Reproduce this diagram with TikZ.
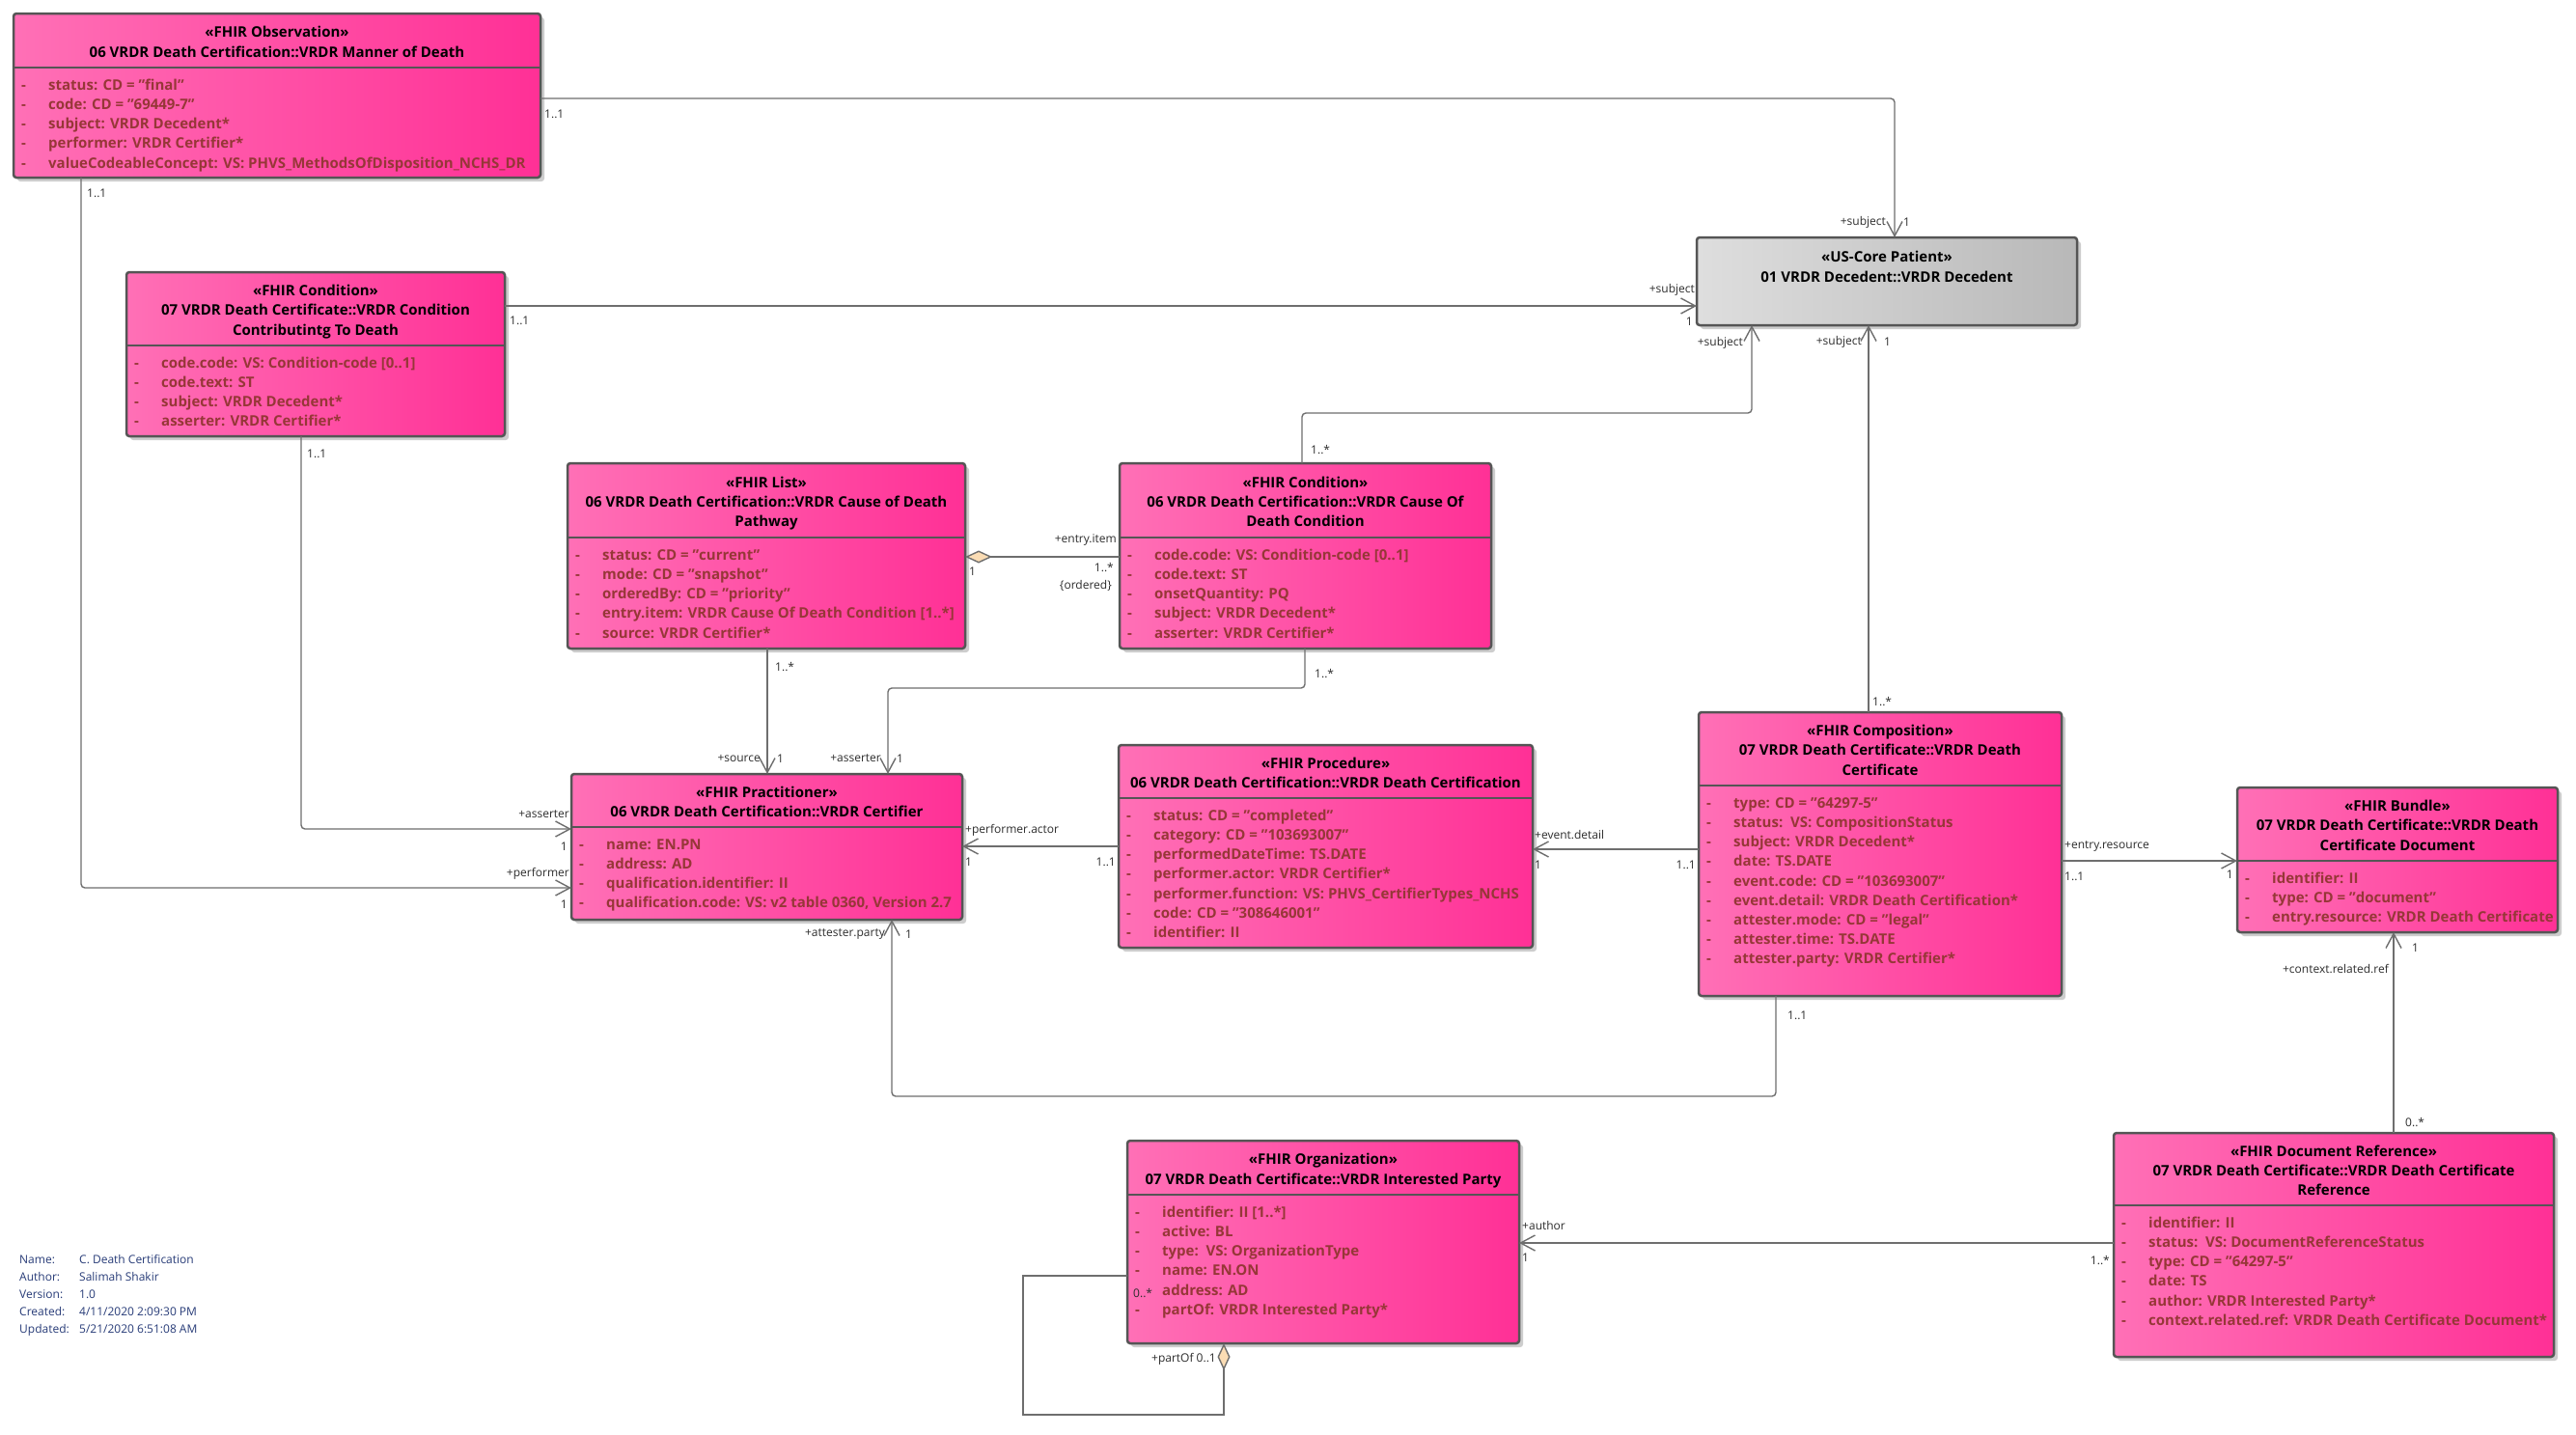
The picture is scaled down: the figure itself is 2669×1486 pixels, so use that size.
\documentclass[tikz,border=0pt]{standalone}
\usepackage{fontspec}
\setmainfont{Open Sans}
\usetikzlibrary{arrows.meta}
\definecolor{pinkL}{RGB}{255,112,182}
\definecolor{pinkR}{RGB}{255,48,150}
\definecolor{grayL}{RGB}{222,222,222}
\definecolor{grayR}{RGB}{184,184,184}
\definecolor{boxline}{RGB}{85,85,85}
\definecolor{attrc}{RGB}{150,55,55}
\definecolor{connc}{RGB}{110,110,110}
\definecolor{lblc}{RGB}{45,45,45}
\definecolor{legc}{RGB}{40,60,120}
\definecolor{diamc}{RGB}{250,220,180}
\definecolor{shadowc}{RGB}{205,205,205}
\newcommand\sline{\rule[-5.2pt]{0pt}{20.2pt}}
\newcommand\at[1]{\sline\makebox[28pt][l]{-}#1}
\newcommand\an[1]{\sline\makebox[28pt][l]{}#1}
\newcommand\umlbox[9]{%
  \fill[shadowc, rounded corners=3pt] (#2+4,#3+4) rectangle (#4+4,#5+4);
  \node[classbox,#9, minimum width={(#4-#2)*1pt}, minimum height={(#5-#3)*1pt}] (#1) at (#2,#3) {};
  \draw[boxline, line width=2.5pt] (#2,#6) -- (#4,#6);
  \node[hdr] (#1-h) at ({(#2+#4)/2},{(#3+#6)/2+2}) {#7};
  \node[attr] (#1-a) at (#2+8,#6+8) {#8};
}
\begin{document}
\begin{tikzpicture}[x=1pt,y=-1pt,
  classbox/.style={draw=boxline, line width=2.5pt, rounded corners=3pt, inner sep=0pt, outer sep=0pt, anchor=north west},
  pinkfill/.style={left color=pinkL, right color=pinkR},
  grayfill/.style={left color=grayL, right color=grayR},
  hdr/.style={font=\bfseries\fontsize{15}{20.2}\selectfont, align=center, inner sep=0pt, text=black},
  attr/.style={font=\bfseries\fontsize{15}{20.2}\selectfont, align=left, inner sep=0pt, anchor=north west, text=attrc},
  conn/.style={draw=connc, line width=1.4pt, rounded corners=4pt},
  nav/.style={-{Straight Barb[length=15pt,width=16pt]}},
  agg/.style={{Diamond[length=28pt,width=13pt,fill=diamc,color=connc]}-},
  lbl/.style={font=\fontsize{12}{14}\selectfont, text=lblc, inner sep=0pt},
  leg/.style={font=\fontsize{12}{18}\selectfont, text=legc, inner sep=0pt, anchor=north west}
]
\useasboundingbox (0,0) rectangle (2669,1486);
\fill[white] (0,0) rectangle (2669,1486);

% ---------- classes ----------
\umlbox{obs}{14}{14}{560}{184}{70}
 {\sline «FHIR Observation»\\\sline 06 VRDR Death Certification::VRDR Manner of Death}
 {\at{status: CD = "final"}\\\at{code: CD = "69449-7"}\\\at{subject: VRDR Decedent*}\\\at{performer: VRDR Certifier*}\\\at{valueCodeableConcept: VS: PHVS\_MethodsOfDisposition\_NCHS\_DR}}
 {pinkfill}

\umlbox{cc}{131}{282}{523}{452}{358}
 {\sline «FHIR Condition»\\\sline 07 VRDR Death Certificate::VRDR Condition\\\sline Contributintg To Death}
 {\at{code.code: VS: Condition-code [0..1]}\\\at{code.text: ST}\\\at{subject: VRDR Decedent*}\\\at{asserter: VRDR Certifier*}}
 {pinkfill}

\umlbox{list}{588}{480}{1000}{672}{557}
 {\sline «FHIR List»\\\sline 06 VRDR Death Certification::VRDR Cause of Death\\\sline Pathway}
 {\at{status: CD = "current"}\\\at{mode: CD = "snapshot"}\\\at{orderedBy: CD = "priority"}\\\at{entry.item: VRDR Cause Of Death Condition [1..*]}\\\at{source: VRDR Certifier*}}
 {pinkfill}

\umlbox{cod}{1160}{480}{1545}{672}{557}
 {\sline «FHIR Condition»\\\sline 06 VRDR Death Certification::VRDR Cause Of\\\sline Death Condition}
 {\at{code.code: VS: Condition-code [0..1]}\\\at{code.text: ST}\\\at{onsetQuantity: PQ}\\\at{subject: VRDR Decedent*}\\\at{asserter: VRDR Certifier*}}
 {pinkfill}

% patient (no compartment)
\fill[shadowc, rounded corners=3pt] (1762,250) rectangle (2156,341);
\node[classbox, grayfill, minimum width=394pt, minimum height=91pt] (pat) at (1758,246) {};
\node[hdr] (pat-h) at (1955,277) {\sline «US-Core Patient»\\\sline 01 VRDR Decedent::VRDR Decedent};

\umlbox{prac}{592}{802}{997}{953}{857}
 {\sline «FHIR Practitioner»\\\sline 06 VRDR Death Certification::VRDR Certifier}
 {\at{name: EN.PN}\\\at{address: AD}\\\at{qualification.identifier: II}\\\at{qualification.code: VS: v2 table 0360, Version 2.7}}
 {pinkfill}

\umlbox{proc}{1159}{772}{1588}{982}{827}
 {\sline «FHIR Procedure»\\\sline 06 VRDR Death Certification::VRDR Death Certification}
 {\at{status: CD = "completed"}\\\at{category: CD = "103693007"}\\\at{performedDateTime: TS.DATE}\\\at{performer.actor: VRDR Certifier*}\\\at{performer.function: VS: PHVS\_CertifierTypes\_NCHS}\\\at{code: CD = "308646001"}\\\at{identifier: II}}
 {pinkfill}

\umlbox{comp}{1760}{738}{2136}{1032}{814}
 {\sline «FHIR Composition»\\\sline 07 VRDR Death Certificate::VRDR Death\\\sline Certificate}
 {\at{type: CD = "64297-5"}\\\at{status:\ \ VS: CompositionStatus}\\\at{subject: VRDR Decedent*}\\\at{date: TS.DATE}\\\at{event.code: CD = "103693007"}\\\at{event.detail: VRDR Death Certification*}\\\at{attester.mode: CD = "legal"}\\\at{attester.time: TS.DATE}\\\at{attester.party: VRDR Certifier*}}
 {pinkfill}

\umlbox{bundle}{2318}{816}{2650}{966}{892}
 {\sline «FHIR Bundle»\\\sline 07 VRDR Death Certificate::VRDR Death\\\sline Certificate Document}
 {\at{identifier: II}\\\at{type: CD = "document"}\\\at{entry.resource: VRDR Death Certificate}}
 {pinkfill}

\umlbox{org}{1168}{1182}{1574}{1392}{1238}
 {\sline «FHIR Organization»\\\sline 07 VRDR Death Certificate::VRDR Interested Party}
 {\at{identifier: II [1..*]}\\\at{active: BL}\\\at{type:\ \ VS: OrganizationType}\\\at{name: EN.ON}\\\an{address: AD}\\\at{partOf: VRDR Interested Party*}}
 {pinkfill}

\umlbox{doc}{2190}{1174}{2646}{1406}{1249}
 {\sline «FHIR Document Reference»\\\sline 07 VRDR Death Certificate::VRDR Death Certificate\\\sline Reference}
 {\at{identifier: II}\\\at{status:\ \ VS: DocumentReferenceStatus}\\\at{type: CD = "64297-5"}\\\at{date: TS}\\\at{author: VRDR Interested Party*}\\\at{context.related.ref: VRDR Death Certificate Document*}}
 {pinkfill}

% ---------- connector bend points ----------
\coordinate (k1) at (1963,102);
\coordinate (k2) at (84,920);
\coordinate (k3) at (0,317);
\coordinate (k4) at (312,859);
\coordinate (k5) at (0,577);
\coordinate (k6a) at (1349,428);
\coordinate (k6b) at (1815,428);
\coordinate (k7) at (795,0);
\coordinate (k8a) at (1352,713);
\coordinate (k8b) at (920,713);
\coordinate (k9) at (0,877);
\coordinate (k10) at (0,880);
\coordinate (k11) at (1936,0);
\coordinate (k12) at (0,892);
\coordinate (k13a) at (1840,1136);
\coordinate (k13b) at (924,1136);
\coordinate (k14) at (2480,0);
\coordinate (k15) at (0,1288);
\coordinate (k16a) at (1268,1466);
\coordinate (k16b) at (1060,1466);
\coordinate (k16c) at (1060,1322);

% ---------- connectors ----------
\draw[conn,nav] (obs.east |- k1) -- (k1) -- (pat.north -| k1);
\draw[conn,nav] (obs.south -| k2) -- (k2) -- (prac.west |- k2);
\draw[conn,nav] (cc.east |- k3) -- (pat.west |- k3);
\draw[conn,nav] (cc.south -| k4) -- (k4) -- (prac.west |- k4);
\draw[conn,agg] (list.east |- k5) -- (cod.west |- k5);
\draw[conn,nav] (cod.north -| k6a) -- (k6a) -- (k6b) -- (pat.south -| k6b);
\draw[conn,nav] (list.south -| k7) -- (prac.north -| k7);
\draw[conn,nav] (cod.south -| k8a) -- (k8a) -- (k8b) -- (prac.north -| k8b);
\draw[conn,nav] (proc.west |- k9) -- (prac.east |- k9);
\draw[conn,nav] (comp.west |- k10) -- (proc.east |- k10);
\draw[conn,nav] (comp.north -| k11) -- (pat.south -| k11);
\draw[conn,nav] (comp.east |- k12) -- (bundle.west |- k12);
\draw[conn,nav] (comp.south -| k13a) -- (k13a) -- (k13b) -- (prac.south -| k13b);
\draw[conn,nav] (doc.north -| k14) -- (bundle.south -| k14);
\draw[conn,nav] (doc.west |- k15) -- (org.east |- k15);
\draw[conn,agg,rounded corners=0pt] (org.south -| k16a) -- (k16a) -- (k16b) -- (k16c) -- (org.west |- k16c);

% ---------- connector labels ----------
\node[lbl,anchor=west] (l1a) at (564,118) {1..1};
\node[lbl,anchor=east] (l1b) at (1954,230) {+subject};
\node[lbl,anchor=west] (l1c) at (1972,230) {1};
\node[lbl,anchor=west] (l2a) at (90,200) {1..1};
\node[lbl,anchor=east] (l2b) at (590,905) {+performer};
\node[lbl,anchor=east] (l2c) at (588,937) {1};
\node[lbl,anchor=west] (l3a) at (528,332) {1..1};
\node[lbl,anchor=east] (l3b) at (1756,300) {+subject};
\node[lbl,anchor=east] (l3c) at (1754,333) {1};
\node[lbl,anchor=west] (l4a) at (318,470) {1..1};
\node[lbl,anchor=east] (l4b) at (590,844) {+asserter};
\node[lbl,anchor=east] (l4c) at (588,877) {1};
\node[lbl,anchor=west] (l5a) at (1004,592) {1};
\node[lbl,anchor=east] (l5b) at (1157,560) {+entry.item};
\node[lbl,anchor=east] (l5c) at (1154,588) {1..*};
\node[lbl,anchor=east] (l5d) at (1152,607) {\{ordered\}};
\node[lbl,anchor=west] (l6a) at (1358,466) {1..*};
\node[lbl,anchor=east] (l6b) at (1806,355) {+subject};
\node[lbl,anchor=west] (l7a) at (803,691) {1..*};
\node[lbl,anchor=east] (l7b) at (788,786) {+source};
\node[lbl,anchor=west] (l7c) at (805,786) {1};
\node[lbl,anchor=west] (l8a) at (1362,698) {1..*};
\node[lbl,anchor=east] (l8b) at (913,786) {+asserter};
\node[lbl,anchor=west] (l8c) at (929,786) {1};
\node[lbl,anchor=west] (l9a) at (1000,860) {+performer.actor};
\node[lbl,anchor=west] (l9b) at (1000,893) {1};
\node[lbl,anchor=east] (l9c) at (1156,893) {1..1};
\node[lbl,anchor=west] (l10a) at (1590,865) {+event.detail};
\node[lbl,anchor=west] (l10b) at (1590,896) {1};
\node[lbl,anchor=east] (l10c) at (1757,896) {1..1};
\node[lbl,anchor=west] (l11a) at (1940,727) {1..*};
\node[lbl,anchor=east] (l11b) at (1929,354) {+subject};
\node[lbl,anchor=west] (l11c) at (1952,354) {1};
\node[lbl,anchor=west] (l12a) at (2139,877) {+entry.resource};
\node[lbl,anchor=west] (l12b) at (2139,908) {1..1};
\node[lbl,anchor=east] (l12c) at (2314,906) {1};
\node[lbl,anchor=west] (l13a) at (1852,1052) {1..1};
\node[lbl,anchor=east] (l13b) at (917,968) {+attester.party};
\node[lbl,anchor=west] (l13c) at (938,968) {1};
\node[lbl,anchor=west] (l14a) at (2492,1163) {0..*};
\node[lbl,anchor=west] (l14b) at (2499,982) {1};
\node[lbl,anchor=east] (l14c) at (2475,1004) {+context.related.ref};
\node[lbl,anchor=east] (l15a) at (2186,1306) {1..*};
\node[lbl,anchor=west] (l15b) at (1577,1270) {+author};
\node[lbl,anchor=west] (l15c) at (1577,1303) {1};
\node[lbl,anchor=east] (l16a) at (1260,1408) {+partOf 0..1};
\node[lbl,anchor=west] (l16b) at (1174,1340) {0..*};

% ---------- legend ----------
\node[leg] (legend) at (20,1297) {\begin{tabular}{@{}p{62pt}@{}l@{}}
Name: & C. Death Certification\\
Author: & Salimah Shakir\\
Version: & 1.0\\
Created: & 4/11/2020 2:09:30 PM\\
Updated: & 5/21/2020 6:51:08 AM
\end{tabular}};
\end{tikzpicture}
\end{document}
